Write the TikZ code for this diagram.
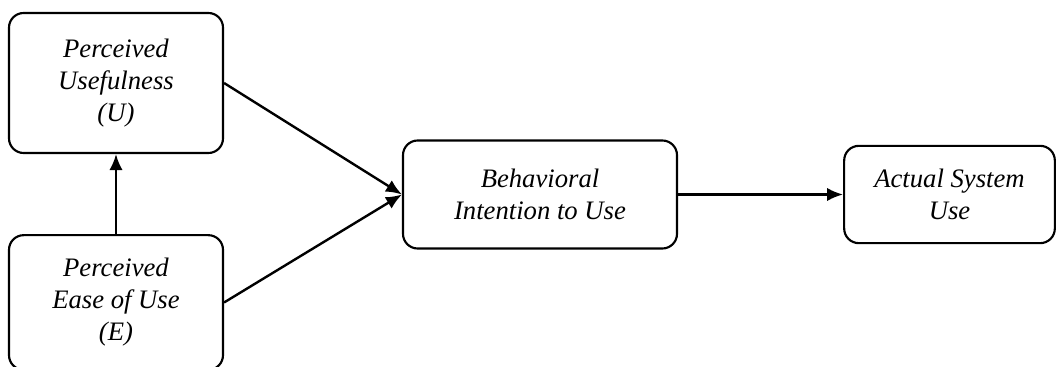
\documentclass[tikz,border=0pt]{standalone}
\usepackage{fontspec}
\setmainfont{Liberation Serif}
\usetikzlibrary{arrows.meta}
\begin{document}
\begin{tikzpicture}[x=0.75pt,y=-0.75pt,>={Latex[length=12pt,width=10pt]},
    box/.style={draw,line width=1.6pt,rounded corners=11pt,align=center,inner sep=0pt,font=\itshape\fontsize{20}{24}\selectfont}]
\useasboundingbox(0,0)rectangle(1056,367);
\node[box,minimum width=160.5pt,minimum height=105pt](pu) at (116,83){Perceived\\Usefulness\\(U)};
\node[box,minimum width=160.5pt,minimum height=101pt](pe) at (116,302.5){Perceived\\Ease of Use\\(E)};
\node[box,minimum width=205.5pt,minimum height=81pt](bi) at (540,194.5){Behavioral\\Intention to Use};
\node[box,minimum width=158pt,minimum height=73pt](asu) at (949.5,194.5){Actual System\\Use};
\draw[->,line width=1.8pt](pe.north)--(pu.south);
\draw[->,line width=1.8pt](pu.east)--(bi.west);
\draw[->,line width=1.8pt](pe.east)--(bi.west);
\draw[->,line width=1.8pt](bi.east)--(asu.west);
\end{tikzpicture}
\end{document}
